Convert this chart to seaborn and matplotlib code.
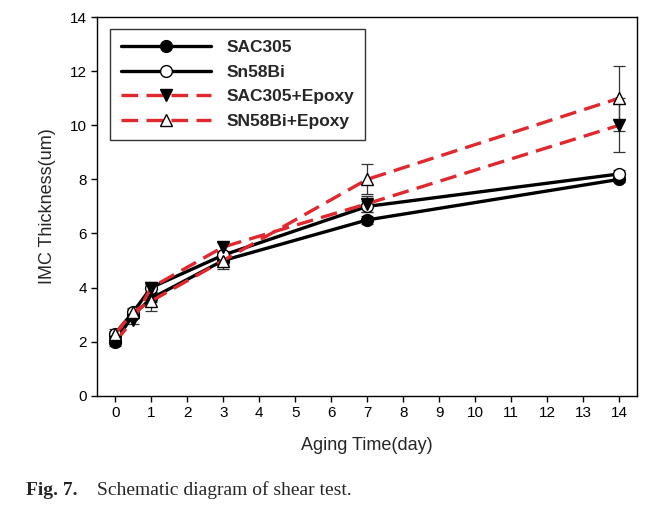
import numpy as np
import pandas as pd
import seaborn as sns
import matplotlib.pyplot as plt

# aging time (day) and IMC thickness (um)
days = [0, 0.5, 1, 3, 7, 14]
sac305 = [2.0, 3.0, 3.6, 5.0, 6.5, 8.0]
sn58bi = [2.3, 3.1, 4.0, 5.2, 7.0, 8.2]
sac305_epoxy = [2.0, 2.8, 4.0, 5.5, 7.1, 10.0]
sn58bi_epoxy = [2.3, 3.1, 3.5, 5.0, 8.0, 11.0]

sac305_err = [0.1, 0.1, 0.15, 0.15, 0.15, 0.1]
sn58bi_err = [0.1, 0.1, 0.15, 0.15, 0.2, 0.15]
sac305_epoxy_err = [0.15, 0.15, 0.2, 0.2, 0.3, 1.0]
sn58bi_epoxy_err = [0.15, 0.15, 0.35, 0.3, 0.55, 1.2]

labels = ['SAC305', 'Sn58Bi', 'SAC305+Epoxy', 'SN58Bi+Epoxy']

sns.set_style('ticks')
plt.rcParams['font.family'] = ['Liberation Sans', 'DejaVu Sans']

fig = plt.figure(figsize=(6.57, 5.16), dpi=100)
ax = fig.add_axes([0.148, 0.233, 0.822, 0.734])

series = [
    (sac305, sac305_err, 'black', '-', 'o', 'black'),
    (sn58bi, sn58bi_err, 'black', '-', 'o', 'white'),
    (sac305_epoxy, sac305_epoxy_err, '#e0282e', (0, (5, 2.5)), 'v', 'black'),
    (sn58bi_epoxy, sn58bi_epoxy_err, '#e0282e', (0, (5, 2.5)), '^', 'white'),
]

for (vals, err, col, ls, mk, mfc), lab in zip(series, labels):
    df = pd.DataFrame({'day': days, 'thk': vals})
    ax.errorbar(days, vals, yerr=err, fmt='none', ecolor='#333333',
                elinewidth=0.9, capsize=4, capthick=0.9, zorder=2)
    sns.lineplot(data=df, x='day', y='thk', ax=ax, color=col, linestyle=ls,
                 linewidth=2.4, marker=mk, markersize=8.5, markerfacecolor=mfc,
                 markeredgecolor='black', markeredgewidth=1, label=lab, zorder=3)

ax.set_xlim(-0.5, 14.5)
ax.set_ylim(0, 14)
ax.set_xticks(range(0, 15))
ax.set_yticks(range(0, 15, 2))
ax.tick_params(direction='out', length=4, width=1, labelsize=11, colors='black')
for s in ax.spines.values():
    s.set_visible(True)
    s.set_color('black')
    s.set_linewidth(1)

ax.set_xlabel('Aging Time(day)', fontsize=13, labelpad=12)
ax.set_ylabel('IMC Thickness(um)', fontsize=13, labelpad=10)

leg = ax.legend(loc='upper left', bbox_to_anchor=(0.008, 0.99), frameon=True,
                fancybox=False, edgecolor='black', handlelength=5.2,
                handletextpad=0.9, borderpad=0.6, labelspacing=0.55,
                prop={'size': 12.5, 'weight': 'bold'})
leg.get_frame().set_linewidth(1)

fig.text(0.04, 0.04, 'Fig. 7.', fontsize=14, fontweight='bold',
         family=['Liberation Serif', 'DejaVu Serif'])
fig.text(0.148, 0.04, 'Schematic diagram of shear test.', fontsize=14,
         family=['Liberation Serif', 'DejaVu Serif'])

fig.savefig('out.png', dpi=100)
